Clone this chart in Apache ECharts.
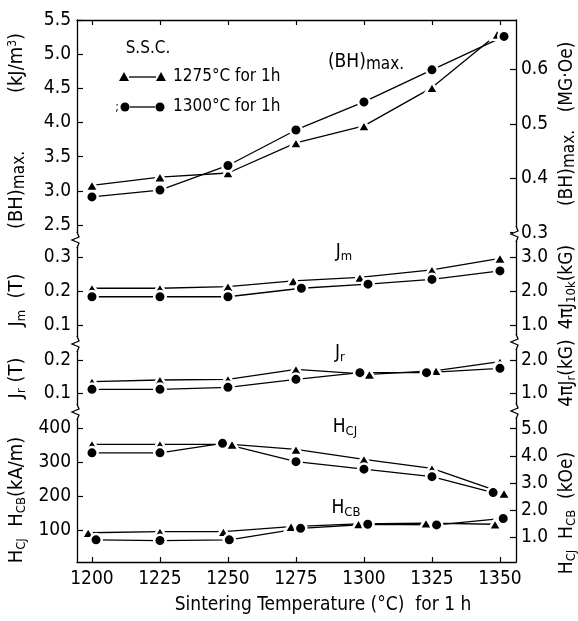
<!DOCTYPE html>
<html><head><meta charset="utf-8">
<script src="https://cdn.jsdelivr.net/npm/echarts@6/dist/echarts.min.js"></script>
<style>html,body{margin:0;padding:0;background:#fff}#c{width:578px;height:621px}</style>
</head><body><div id="c"></div>
<script>
// ---------- data ----------
const temps = [1200, 1225, 1250, 1275, 1300, 1325, 1350];
// (BH)max, kJ/m3
const bhTriX  = [1200, 1225, 1250, 1275, 1300, 1325, 1349];
const bhTri   = [3.08, 3.20, 3.26, 3.70, 3.95, 4.51, 5.29];
const bhCirX  = [1200, 1225, 1250, 1275, 1300, 1325, 1351.5];
const bhCir   = [2.91, 3.01, 3.37, 3.89, 4.30, 4.77, 5.26];
// Jm, T
const jmTriX  = [1200, 1225, 1250, 1274, 1298.5, 1325, 1350];
const jmTri   = [0.208, 0.208, 0.213, 0.230, 0.240, 0.262, 0.296];
const jmCirX  = [1200, 1225, 1250, 1277, 1301.5, 1325, 1350];
const jmCir   = [0.183, 0.183, 0.183, 0.208, 0.220, 0.234, 0.259];
// Jr, T
const jrTriX  = [1200, 1225, 1250, 1275, 1302, 1326.5, 1350];
const jrTri   = [0.135, 0.140, 0.142, 0.172, 0.157, 0.168, 0.195];
const jrCirX  = [1200, 1225, 1250, 1275, 1298.5, 1323, 1350];
const jrCir   = [0.112, 0.112, 0.118, 0.142, 0.162, 0.162, 0.175];
// HcJ, kA/m
const hcjTriX = [1200, 1225, 1251.5, 1275, 1300, 1325, 1351.5];
const hcjTri  = [352, 352, 352, 337, 308, 281, 208];
const hcjCirX = [1200, 1225, 1248, 1275, 1300, 1325, 1347.5];
const hcjCir  = [327, 327, 355, 301, 279, 257, 210];
// HcB, kA/m
const hcbTriX = [1198.6, 1225, 1248.3, 1273.2, 1298, 1322.8, 1348.2];
const hcbTri  = [92, 95, 95, 110, 118, 120, 117];
const hcbCirX = [1201.5, 1225, 1250.5, 1276.7, 1301.4, 1326.7, 1351.2];
const hcbCir  = [71, 69, 71, 105, 117, 115, 134];
// tick labels
const xTicks = temps;
const bhTicks = [2.5, 3.0, 3.5, 4.0, 4.5, 5.0, 5.5];
const bhRTicks = [0.3, 0.4, 0.5, 0.6];
const jmTicks = [0.1, 0.2, 0.3];
const jmRTicks = [1.0, 2.0, 3.0];
const jrTicks = [0.1, 0.2];
const jrRTicks = [1.0, 2.0];
const hTicks = [100, 200, 300, 400];
const hRTicks = [1.0, 2.0, 3.0, 4.0, 5.0];

// ---------- layout ----------
const FONT = '"DejaVu Sans Condensed", "DejaVu Sans", sans-serif';
const L = 77, R = 516;
const panels = [
  {top: 20,  bottom: 240, min: 2.279, max: 5.5,   conv: 1/7.958, lt: bhTicks, rt: bhRTicks, ld: 1, rd: 1},
  {top: 240, bottom: 343, min: 0.047, max: 0.35,  conv: 10,      lt: jmTicks, rt: jmRTicks, ld: 1, rd: 1},
  {top: 343, bottom: 412, min: 0.044, max: 0.251, conv: 10,      lt: jrTicks, rt: jrRTicks, ld: 1, rd: 1},
  {top: 412, bottom: 562, min: 5.9,   max: 447.1, conv: 1/79.58, lt: hTicks,  rt: hRTicks,  ld: 0, rd: 1}
];
const XMIN = 1194.5, XMAX = 1355.9;

const grid = panels.map(p => ({left: L, width: R - L, top: p.top, height: p.bottom - p.top}));
const xAxis = panels.map((p, i) => ({
  gridIndex: i, type: 'value', min: XMIN, max: XMAX,
  show: i === 0 || i === 3,
  position: i === 0 ? 'top' : 'bottom',
  splitLine: {show: false},
  axisLine: {show: true, lineStyle: {color: '#000', width: 1.3}},
  axisTick: {show: true, inside: true, length: 5, lineStyle: {color: '#000', width: 1.2}, customValues: xTicks},
  axisLabel: {show: i === 3, customValues: xTicks, color: '#000', fontFamily: FONT, fontSize: 19, margin: 8,
              formatter: v => String(v)}
}));
const yAxis = [];
panels.forEach((p, i) => {
  yAxis.push({
    gridIndex: i, type: 'value', position: 'left', min: p.min, max: p.max,
    splitLine: {show: false},
    axisLine: {show: true, lineStyle: {color: '#000', width: 1.3}},
    axisTick: {show: true, inside: true, length: 6, lineStyle: {color: '#000', width: 1.2}, customValues: p.lt},
    axisLabel: {customValues: p.lt, color: '#000', fontFamily: FONT, fontSize: 19, margin: 6,
                formatter: v => v.toFixed(p.ld)}
  });
});
panels.forEach((p, i) => {
  const a = p.min * p.conv, b = p.max * p.conv;
  yAxis.push({
    gridIndex: i, type: 'value', position: 'right', min: a, max: b,
    splitLine: {show: false},
    axisLine: {show: true, lineStyle: {color: '#000', width: 1.3}},
    axisTick: {show: true, inside: true, length: 6, lineStyle: {color: '#000', width: 1.2}, customValues: p.rt},
    axisLabel: {customValues: p.rt, color: '#000', fontFamily: FONT, fontSize: 19, margin: 5,
                formatter: v => v.toFixed(p.rd)}
  });
});

function zip(xs, ys) { return xs.map((x, k) => [x, ys[k]]); }
function mk(name, xs, ys, gi, tri) {
  return {
    name, type: 'line', xAxisIndex: gi, yAxisIndex: gi, data: zip(xs, ys),
    symbol: tri ? 'triangle' : 'circle', symbolSize: tri ? [13, 11] : 11.5,
    showSymbol: true, animation: false, silent: true,
    lineStyle: {color: '#000', width: 1.3},
    itemStyle: {color: '#000', borderColor: '#fff', borderWidth: 2.5},
    z: 3
  };
}
const series = [
  mk('bhTri', bhTriX, bhTri, 0, true),  mk('bhCir', bhCirX, bhCir, 0, false),
  mk('jmTri', jmTriX, jmTri, 1, true),  mk('jmCir', jmCirX, jmCir, 1, false),
  mk('jrTri', jrTriX, jrTri, 2, true),  mk('jrCir', jrCirX, jrCir, 2, false),
  mk('hcjTri', hcjTriX, hcjTri, 3, true), mk('hcjCir', hcjCirX, hcjCir, 3, false),
  mk('hcbTri', hcbTriX, hcbTri, 3, true), mk('hcbCir', hcbCirX, hcbCir, 3, false)
];

// ---------- decorations ----------
const G = [];
function brk(x, y) {
  G.push({type: 'rect', shape: {x: x - 3, y: y - 7, width: 6, height: 14}, style: {fill: '#fff'}, z: 50, silent: true});
  G.push({type: 'polyline', shape: {points: [[x, y - 8], [x + 2, y - 3], [x - 5, y], [x + 2, y + 3], [x, y + 8]]},
          style: {stroke: '#000', lineWidth: 1.3, fill: null}, z: 51, silent: true});
}
[240, 344, 412].forEach(y => brk(L, y));
[234, 342, 411].forEach(y => brk(R, y));

const richBase = {
  n: {fontFamily: FONT, fontSize: 19, fill: '#000'},
  s: {fontFamily: FONT, fontSize: 13, fill: '#000', padding: [9, 0, 0, 0]},
  m: {fontFamily: FONT, fontSize: 17, fill: '#000', padding: [5, 0, 0, 0]},
  u: {fontFamily: FONT, fontSize: 12, fill: '#000', padding: [0, 0, 8, 0]}
};
function txt(x, y, text, opt = {}) {
  G.push({type: 'text', x, y, rotation: opt.rot || 0, z: 60, silent: true,
    style: {text, rich: richBase, fontFamily: FONT, fontSize: opt.size || 19, fill: '#000',
            align: opt.align || 'center', verticalAlign: 'middle'}});
}
// in-plot labels
txt(148, 49, 'S.S.C.', {size: 17});
txt(366, 62, '{n|(BH)}{m|max.}');
txt(344, 252, '{n|J}{s|m}');
txt(340, 353, '{n|J}{s|r}');
txt(345, 427, '{n|H}{s|CJ}');
txt(346, 508, '{n|H}{s|CB}');
// legend
function sym(type, x, y) {
  if (type === 'tri') {
    G.push({type: 'polygon', shape: {points: [[x - 5, y + 4], [x + 5, y + 4], [x, y - 5]]}, style: {fill: '#000'}, z: 61, silent: true});
  } else {
    G.push({type: 'circle', shape: {cx: x, cy: y, r: 4.5}, style: {fill: '#000'}, z: 61, silent: true});
  }
}
G.push({type: 'line', shape: {x1: 129, y1: 77, x2: 156, y2: 77}, style: {stroke: '#000', lineWidth: 1.3}, z: 60, silent: true});
sym('tri', 124, 77); sym('tri', 161, 77);
txt(173, 77, '1275°C for 1h', {size: 17, align: 'left'});
G.push({type: 'line', shape: {x1: 130, y1: 107, x2: 155, y2: 107}, style: {stroke: '#000', lineWidth: 1.3}, z: 60, silent: true});
sym('cir', 125, 107); sym('cir', 160, 107);
txt(117, 108, ';', {size: 12});
txt(173, 107, '1300°C for 1h', {size: 17, align: 'left'});
// left axis titles (rotated)
const RT = Math.PI / 2;
txt(17, 63, '(kJ/m{u|3})', {rot: RT, size: 20});
txt(17, 190, '(BH){m|max.}', {rot: RT, size: 20});
txt(17, 300, 'J{s|m}  (T)', {rot: RT, size: 20});
txt(17, 378, 'J{s|r} (T)', {rot: RT, size: 20});
txt(17, 500, 'H{s|CJ}  H{s|CB}(kA/m)', {rot: RT, size: 20});
// right axis titles
txt(567, 77, '(MG·Oe)', {rot: RT});
txt(567, 168, '(BH){m|max.}', {rot: RT});
txt(567, 287, '4πJ{s|10k}(kG)', {rot: RT});
txt(567, 373, '4πJ{s|r}(kG)', {rot: RT});
txt(567, 513, 'H{s|CJ}  H{s|CB}  (kOe)', {rot: RT});
// x title
txt(323, 605, 'Sintering Temperature (°C)  for 1 h', {size: 19});

const chart = echarts.init(document.getElementById('c'), null, {renderer: 'canvas'});
chart.setOption({
  animation: false, backgroundColor: '#fff',
  grid, xAxis, yAxis, series, graphic: G
});
</script></body></html>
